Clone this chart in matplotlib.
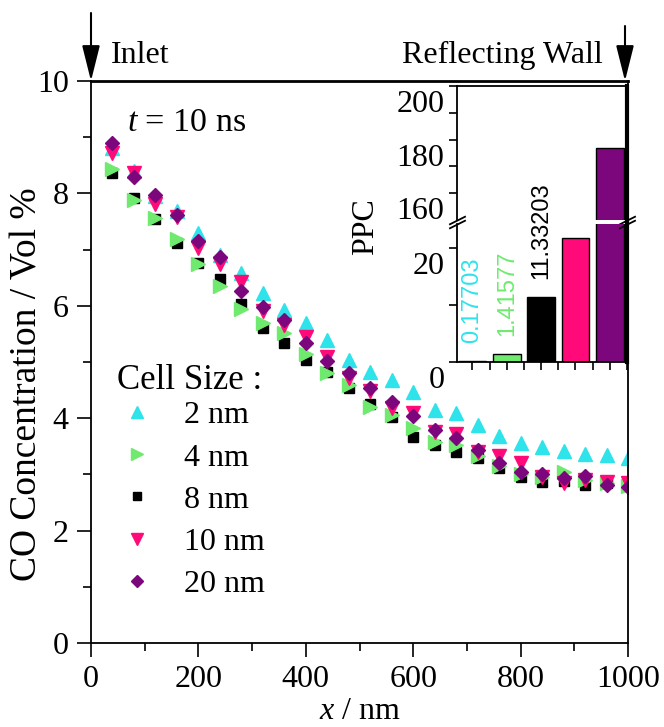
import matplotlib

matplotlib.use("Agg")
import matplotlib.pyplot as plt
from matplotlib.transforms import ScaledTranslation

# CO concentration profiles at t = 10 ns for each cell size
x_nm = [40, 80, 120, 160, 200, 240, 280, 320, 360, 400, 440, 480, 520,
        560, 600, 640, 680, 720, 760, 800, 840, 880, 920, 960, 1000]
conc_2nm = [8.80, 8.40, 7.95, 7.68, 7.30, 6.90, 6.59, 6.22, 5.93, 5.70, 5.39, 5.04, 4.83,
            4.68, 4.47, 4.15, 4.10, 3.88, 3.68, 3.56, 3.48, 3.42, 3.37, 3.35, 3.29]
conc_4nm = [8.43, 7.89, 7.57, 7.18, 6.74, 6.36, 5.94, 5.70, 5.51, 5.14, 4.80, 4.59, 4.20,
            4.05, 3.82, 3.58, 3.52, 3.32, 3.15, 3.00, 2.95, 3.05, 2.90, 2.85, 2.80]
conc_8nm = [8.37, 7.91, 7.54, 7.12, 6.76, 6.47, 6.03, 5.60, 5.33, 5.04, 4.83, 4.53, 4.26,
            4.03, 3.67, 3.52, 3.40, 3.29, 3.11, 2.96, 2.87, 2.89, 2.81, 2.85, 2.80]
conc_10nm = [8.71, 8.37, 7.81, 7.58, 7.02, 6.74, 6.42, 5.90, 5.66, 5.44, 5.09, 4.71, 4.48,
             4.18, 4.10, 3.75, 3.72, 3.40, 3.32, 3.20, 2.95, 2.85, 2.90, 2.87, 2.84]
conc_20nm = [8.90, 8.30, 7.97, 7.62, 7.16, 6.87, 6.27, 5.98, 5.74, 5.34, 5.01, 4.80, 4.53,
             4.28, 4.04, 3.79, 3.64, 3.43, 3.21, 3.05, 3.01, 2.93, 2.97, 2.81, 2.78]

# PPC per cell size (inset)
ppc_pos = [1, 2, 3, 4, 5]
ppc = [0.17703, 1.41577, 11.33203, 21.8, 177.0]
ppc_labels = ["0.17703", "1.41577", "11.33203", "", ""]

CYAN = "#2ee3ea"
GREEN = "#6fea6f"
BLACK = "#000000"
PINK = "#ff0a78"
PURPLE = "#7c077c"

plt.rcParams["font.family"] = ["Liberation Serif", "DejaVu Serif"]
plt.rcParams["mathtext.fontset"] = "custom"
plt.rcParams["mathtext.rm"] = "Liberation Serif"
plt.rcParams["mathtext.it"] = "Liberation Serif:italic"
FS = 23

W, H = 664, 727
fig = plt.figure(figsize=(W / 100, H / 100), dpi=100)


def px_box(left, top, right, bottom):
    return [left / W, 1 - bottom / H, (right - left) / W, (bottom - top) / H]


ax = fig.add_axes(px_box(91, 81, 628, 643))

series = [
    (conc_2nm, "2 nm", "^", CYAN, 9.5),
    (conc_8nm, "8 nm", "s", BLACK, 7),
    (conc_4nm, "4 nm", ">", GREEN, 9.5),
    (conc_10nm, "10 nm", "v", PINK, 9.5),
    (conc_20nm, "20 nm", "D", PURPLE, 7),
]
handles = {}
for y, lab, mk, col, ms in series:
    (h,) = ax.plot(x_nm, y, linestyle="none", marker=mk, color=col, mec=col,
                   markersize=ms, label=lab)
    handles[lab] = h

ax.set_xlim(0, 1000)
ax.set_ylim(0, 10)
ax.set_xticks([0, 200, 400, 600, 800, 1000])
ax.set_xticks([100, 300, 500, 700, 900], minor=True)
ax.set_yticks([0, 2, 4, 6, 8, 10])
ax.set_yticks([1, 3, 5, 7, 9], minor=True)
ax.tick_params(which="both", direction="out", width=1.2, labelsize=FS, pad=6,
               top=False, right=False)
ax.tick_params(which="major", length=10)
ax.tick_params(which="minor", length=6)
for sp in ax.spines.values():
    sp.set_linewidth(1.3)
ax.spines["top"].set_linewidth(2.0)

ax.set_xlabel("$x$ / nm", fontsize=FS, labelpad=2)
ax.set_ylabel("CO Concentration / Vol %", fontsize=27)
ax.yaxis.set_label_coords(-0.086, 0.46)

# legend: heading drawn as text, entries below it
ax.text(117 / W, 1 - 381 / H, "Cell Size :", transform=fig.transFigure,
        fontsize=25, ha="left", va="center")
order = ["2 nm", "4 nm", "8 nm", "10 nm", "20 nm"]
leg = ax.legend([handles[k] for k in order], order,
                loc="upper left", bbox_to_anchor=(117 / W, 1 - 401 / H),
                bbox_transform=fig.transFigure, frameon=False, fontsize=FS,
                borderpad=0, borderaxespad=0, handlelength=1.25,
                handletextpad=0.85, labelspacing=0.4, markerscale=0.85)

ax.text(67, 9.25, "$t$ = 10 ns", fontsize=24.5, va="center", ha="left")

# boundary markers above the domain
arrow_kw = dict(arrowstyle="-|>,head_length=2.2,head_width=0.55", color="k",
                lw=1.5, shrinkA=0, shrinkB=0, mutation_scale=10)
ax.annotate("", xy=(0, 1.0), xycoords="axes fraction",
            xytext=(0, 1 + 68 / 562), textcoords="axes fraction",
            arrowprops=arrow_kw, annotation_clip=False)
ax.annotate("", xy=(1 - 3 / 537, 1.0), xycoords="axes fraction",
            xytext=(1 - 3 / 537, 1 + 55 / 562), textcoords="axes fraction",
            arrowprops=arrow_kw, annotation_clip=False)
ax.text(37, 10.45, "Inlet", fontsize=FS, ha="left", va="center", clip_on=False)
ax.text(953, 10.45, "Reflecting Wall", fontsize=FS, ha="right", va="center",
        clip_on=False)

# inset: broken-axis bar chart of PPC
ax_hi = fig.add_axes(px_box(457, 86, 627, 220))
ax_lo = fig.add_axes(px_box(457, 224, 627, 362))
bar_colors = [CYAN, GREEN, BLACK, PINK, PURPLE]
for a in (ax_hi, ax_lo):
    a.bar(ppc_pos, ppc, width=0.8, color=bar_colors, edgecolor="k", linewidth=1.0)
    a.set_xlim(0.55, 5.5)
    for sp in a.spines.values():
        sp.set_linewidth(1.3)
    a.spines["right"].set_linewidth(3.0)
    a.tick_params(which="both", direction="out", width=1.2, labelsize=FS,
                  right=False, top=False, pad=3)
    a.tick_params(which="major", length=6)
    a.tick_params(which="minor", length=6)

ax_hi.set_ylim(150, 200)
ax_hi.set_yticks([160, 180, 200])
ax_hi.set_yticks([170, 190], minor=True)
ax_hi.spines["bottom"].set_visible(False)
ax_hi.tick_params(axis="x", which="both", bottom=False, labelbottom=False)

ax_lo.set_ylim(0, 24.2)
ax_lo.set_yticks([0, 20])
ax_lo.set_yticks([10], minor=True)
ax_lo.spines["top"].set_visible(False)
ax_lo.set_xticks(ppc_pos)
ax_lo.set_xticks([1.5, 2.5, 3.5, 4.5, 5.5], minor=True)
ax_lo.tick_params(axis="x", which="both", labelbottom=False)

# tick labels sit a little below their ticks
shift = ScaledTranslation(0, -15 / 100, fig.dpi_scale_trans)
for a in (ax_hi, ax_lo):
    for lbl in a.get_yticklabels():
        lbl.set_transform(lbl.get_transform() + shift)

ax_hi.set_ylabel("PPC", fontsize=FS, labelpad=4)
ax_hi.yaxis.set_label_coords(-0.45, -0.05)

for xp, val, txt, col in zip(ppc_pos, ppc, ppc_labels, bar_colors):
    if txt:
        ax_lo.annotate(txt, xy=(xp, val), xytext=(0, 13), textcoords="offset points",
                       rotation=90, ha="center", va="bottom", color=col,
                       fontsize=17, family=["Liberation Sans", "DejaVu Sans"])

# break marks on both sides
brk = dict(marker=[(-1, -0.5), (1, 0.5)], markersize=12, linestyle="none",
           color="k", mec="k", mew=1.3, clip_on=False)
ax_hi.plot([0, 1], [0, 0], transform=ax_hi.transAxes, **brk)
ax_lo.plot([0, 1], [1, 1], transform=ax_lo.transAxes, **brk)

fig.savefig("out.png", dpi=100)
